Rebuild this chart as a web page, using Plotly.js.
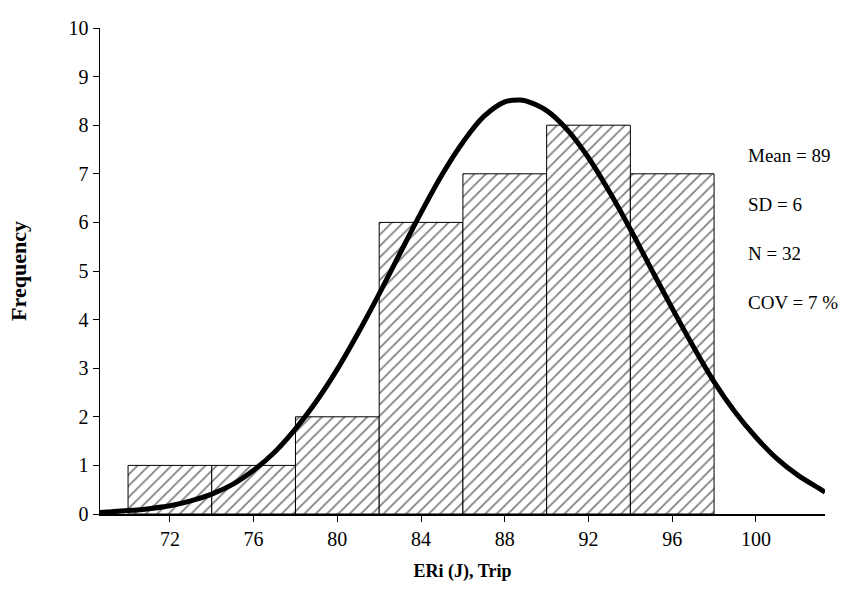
<!DOCTYPE html>
<html>
<head>
<meta charset="utf-8">
<script src="https://cdn.plot.ly/plotly-3.0.1.min.js"></script>
<style>html,body{margin:0;padding:0;background:#fff;}#chart{width:866px;height:605px;}</style>
</head>
<body>
<div id="chart"></div>
<script>
// Histogram bins (centres) and frequencies
const binCenters = [72, 76, 80, 84, 88, 92, 96];
const frequencies = [1, 1, 2, 6, 7, 8, 7];
const tickValues = [72, 76, 80, 84, 88, 92, 96, 100];
const tickLabels = ["72", "76", "80", "84", "88", "92", "96", "100"];

// Fitted normal curve
const curveX = [68.66, 69, 70, 71, 72, 73, 74, 75, 76, 77, 78, 79, 80, 81, 82, 83, 84, 85, 86, 87, 88, 88.7, 89, 90, 91, 92, 93, 94, 95, 96, 97, 98, 99, 100, 101, 102, 103, 103.3];
const curveY = [0.03, 0.04, 0.07, 0.11, 0.17, 0.27, 0.41, 0.61, 0.90, 1.27, 1.75, 2.32, 2.98, 3.73, 4.53, 5.37, 6.20, 6.98, 7.65, 8.18, 8.48, 8.52, 8.50, 8.30, 7.90, 7.33, 6.63, 5.86, 5.04, 4.23, 3.45, 2.72, 2.10, 1.58, 1.14, 0.80, 0.53, 0.45];

const statLabels = ["Mean = 89", "SD = 6", "N = 32", "COV = 7 %"];
const statY = [7.38, 6.37, 5.36, 4.35];

const serif = "'Liberation Serif', 'Times New Roman', serif";

const traces = [
  {
    type: 'bar',
    x: binCenters,
    y: frequencies,
    width: 4,
    marker: {
      color: '#ffffff',
      line: {color: '#000000', width: 1},
      pattern: {shape: '/', size: 8, solidity: 0.22, fgcolor: '#000000', bgcolor: '#ffffff', fillmode: 'overlay'}
    },
    hoverinfo: 'x+y',
    showlegend: false
  },
  {
    type: 'scatter',
    mode: 'lines',
    x: curveX,
    y: curveY,
    line: {color: '#000000', width: 5, shape: 'spline', smoothing: 1},
    showlegend: false
  }
];

const annotations = statLabels.map((t, i) => ({
  x: 0.891, xref: 'paper', xanchor: 'left',
  y: statY[i], yref: 'y', yanchor: 'middle',
  text: t, showarrow: false,
  font: {family: serif, size: 19, color: '#000'}
}));

const layout = {
  width: 866, height: 605,
  margin: {l: 100, r: 41, t: 28, b: 91},
  paper_bgcolor: '#ffffff',
  plot_bgcolor: '#ffffff',
  bargap: 0,
  font: {family: serif, color: '#000'},
  xaxis: {
    range: [68.66, 103.3],
    tickmode: 'array', tickvals: tickValues, ticktext: tickLabels,
    ticks: 'outside', ticklen: 6, tickcolor: '#000', tickwidth: 1,
    showline: true, linecolor: '#000', linewidth: 1.5,
    showgrid: false, zeroline: false,
    tickfont: {family: serif, size: 20, color: '#000'},
    title: {text: '<b>ERi (J), Trip</b>', font: {family: serif, size: 18, color: '#000'}, standoff: 16}
  },
  yaxis: {
    range: [0, 10], dtick: 1,
    ticks: 'outside', ticklen: 6, tickcolor: '#000', tickwidth: 1,
    showline: true, linecolor: '#000', linewidth: 1.5,
    showgrid: false, zeroline: false,
    tickfont: {family: serif, size: 20, color: '#000'},
    title: {text: '<b>Frequency</b>', font: {family: serif, size: 22, color: '#000'}, standoff: 36}
  },
  annotations: annotations
};

Plotly.newPlot('chart', traces, layout, {displayModeBar: false, staticPlot: true});
</script>
</body>
</html>
